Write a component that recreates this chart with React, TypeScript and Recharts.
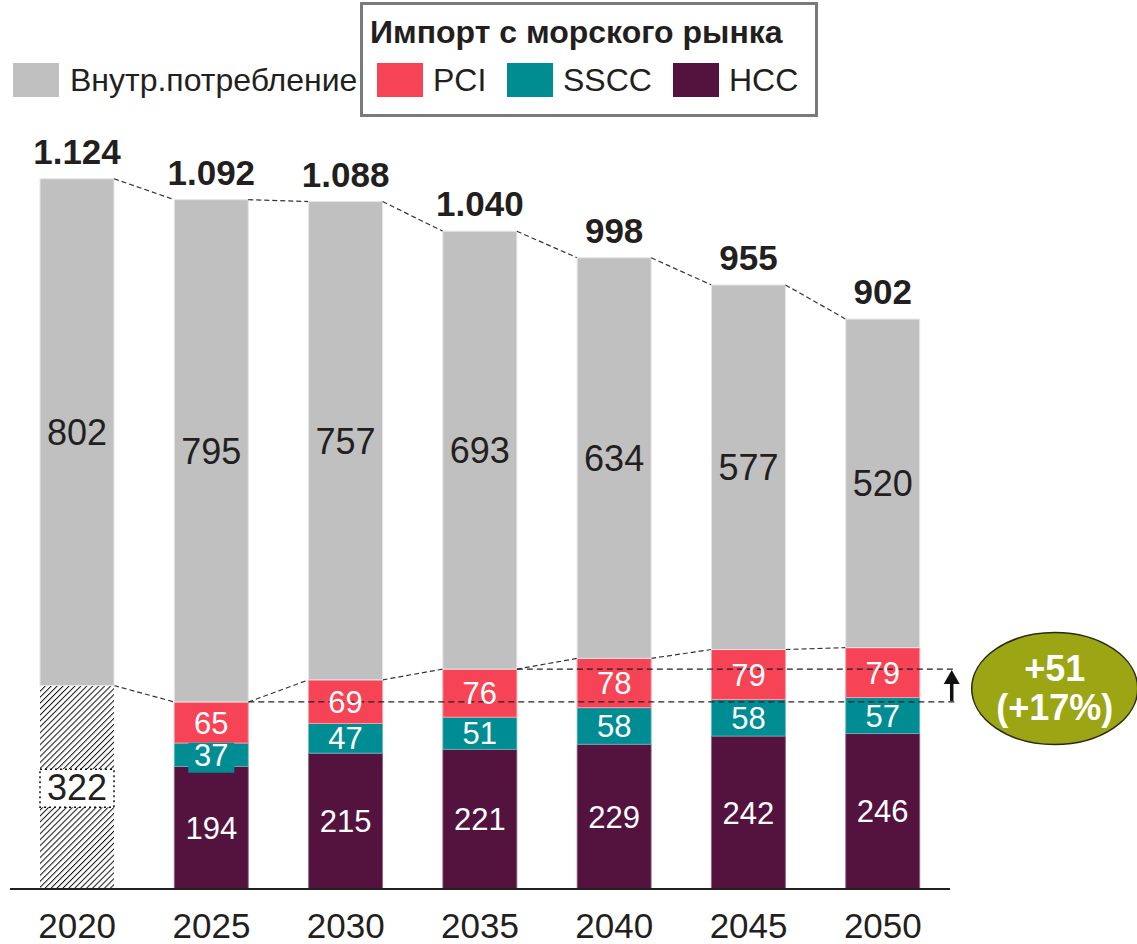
import { BarChart, Bar, XAxis, YAxis, LabelList } from 'recharts';

const years = ['2020', '2025', '2030', '2035', '2040', '2045', '2050'];
const domestic = [802, 795, 757, 693, 634, 577, 520];
const legacyImport = [322, null, null, null, null, null, null];
const hcc = [null, 194, 215, 221, 229, 242, 246];
const sscc = [null, 37, 47, 51, 58, 58, 57];
const pci = [null, 65, 69, 76, 78, 79, 79];
const totalLabels = ['1.124', '1.092', '1.088', '1.040', '998', '955', '902'];
const growthLabel = ['+51', '(+17%)'];

const GREY = '#c0c0c0';
const PCI_C = '#f74356';
const SSCC_C = '#008c93';
const HCC_C = '#54133f';
const OLIVE = '#9ca514';
const INK = '#231f20';
const FONT = '"Liberation Sans", Arial, sans-serif';

const W = 1137;
const H = 944;
const M = { top: 60, right: 187, left: 10, bottom: 0 };
const STEP = (W - M.left - M.right) / years.length;

const imports = years.map((_, i) => (legacyImport[i] ?? 0) + (hcc[i] ?? 0) + (sscc[i] ?? 0) + (pci[i] ?? 0));
const stackTotals = years.map((_, i) => imports[i] + domestic[i]);

const data = years.map((year, i) => ({
  year,
  legacy: legacyImport[i],
  hcc: hcc[i],
  sscc: sscc[i],
  pci: pci[i],
  domestic: domestic[i],
}));

function DomesticShape(props: any) {
  const { x, y, width, height, index } = props;
  const k = height / domestic[index];
  const base = y + stackTotals[index] * k;
  const next = index + 1 < years.length ? base - stackTotals[index + 1] * k : null;
  const gap = STEP - width;
  let extra = null;
  if (index === years.length - 1) {
    // import level lines for 2025 / 2035, arrow and growth bubble
    const yLow = base - imports[1] * k;
    const yHigh = base - imports[3] * k;
    const xEnd = x + width + 35;
    const ax = x + width + 32;
    const cx = x + width + 135;
    const cy = (yLow + yHigh) / 2 + 3;
    extra = (
      <g>
        <line x1={x - 5 * STEP + width} y1={yLow} x2={xEnd} y2={yLow} stroke="#222" strokeWidth={1.3} strokeDasharray="6 4" />
        <line x1={x - 3 * STEP + width} y1={yHigh} x2={xEnd} y2={yHigh} stroke="#222" strokeWidth={1.3} strokeDasharray="6 4" />
        <line x1={ax} y1={yLow - 1} x2={ax} y2={yHigh + 12} stroke="#111" strokeWidth={3.5} />
        <polygon points={`${ax - 8},${yHigh + 15} ${ax + 8},${yHigh + 15} ${ax},${yHigh + 1}`} fill="#111" />
        <ellipse cx={cx} cy={cy} rx={83} ry={56} fill={OLIVE} stroke="#2a2a10" strokeWidth={1.5} />
        <text x={cx} y={cy - 8} textAnchor="middle" fill="#fff" fontSize={36} fontWeight="bold" fontFamily={FONT}>
          {growthLabel[0]}
        </text>
        <text x={cx} y={cy + 31} textAnchor="middle" fill="#fff" fontSize={36} fontWeight="bold" fontFamily={FONT}>
          {growthLabel[1]}
        </text>
      </g>
    );
  }
  return (
    <g>
      <rect x={x} y={y} width={width} height={height} fill={GREY} stroke="#e6e6e6" strokeWidth={1} />
      {next !== null && (
        <line x1={x + width} y1={y} x2={x + width + gap} y2={next} stroke="#333" strokeWidth={1.2} strokeDasharray="5 3" />
      )}
      {extra}
    </g>
  );
}

function PciShape(props: any) {
  const { x, y, width, height, index } = props;
  if (index < 1 || pci[index] == null || !height) return null;
  const k = height / (pci[index] as number);
  const base = y + imports[index] * k;
  const prevY = base - imports[index - 1] * k;
  const gap = STEP - width;
  return (
    <g>
      <rect x={x} y={y} width={width} height={height} fill={PCI_C} stroke="#f3a0a8" strokeWidth={1} />
      <line x1={x - gap} y1={prevY} x2={x} y2={y} stroke="#333" strokeWidth={1.2} strokeDasharray="5 3" />
    </g>
  );
}

function renderInside(color: string, size: number, boxFill?: string, dotted?: boolean) {
  return (props: any) => {
    const { x, y, width, height, value } = props;
    if (value == null || value === 0) return null;
    const cx = x + width / 2;
    const cy = y + height / 2;
    return (
      <g>
        {dotted && (
          <rect x={x} y={cy - 18} width={width} height={38} fill="#fff" stroke="#111" strokeWidth={1.5} strokeDasharray="2 3" />
        )}
        {boxFill && height < 26 && <rect x={cx - 23} y={cy - 12} width={46} height={30} fill={boxFill} />}
        <text x={cx} y={cy + size * 0.36} textAnchor="middle" fill={color} fontSize={size} fontFamily={FONT}>
          {value}
        </text>
      </g>
    );
  };
}

function renderTotal(props: any) {
  const { x, y, width, index } = props;
  return (
    <text x={x + width / 2} y={y - 15} textAnchor="middle" fill={INK} fontSize={35} fontWeight="bold" fontFamily={FONT}>
      {totalLabels[index]}
    </text>
  );
}

const swatch = (left: number, color: string) => (
  <div style={{ position: 'absolute', left, top: 63, width: 46, height: 34, background: color }} />
);
const legendText = (left: number, text: string) => (
  <div style={{ position: 'absolute', left, top: 61, fontSize: 32, lineHeight: '38px', color: INK, whiteSpace: 'nowrap' }}>{text}</div>
);

export default function App() {
  return (
    <div style={{ position: 'relative', width: W, height: H, fontFamily: FONT, background: '#fff', overflow: 'hidden' }}>
      <style>{'body{margin:0}'}</style>
      <BarChart width={W} height={H} data={data} margin={M} barSize={74}>
        <defs>
          <pattern id="hatch" patternUnits="userSpaceOnUse" width={4.2} height={4.2} patternTransform="rotate(45)">
            <rect width={4.2} height={4.2} fill="#fff" />
            <line x1={0} y1={0} x2={0} y2={4.2} stroke="#111" strokeWidth={2} />
          </pattern>
        </defs>
        <XAxis
          dataKey="year"
          height={55}
          interval={0}
          tickLine={false}
          tickMargin={18}
          axisLine={{ stroke: INK, strokeWidth: 2 }}
          tick={{ fontSize: 35, fill: INK, fontFamily: FONT }}
        />
        <YAxis hide domain={[0, 1312]} />
        <Bar dataKey="legacy" stackId="a" fill="url(#hatch)" isAnimationActive={false}>
          <LabelList dataKey="legacy" content={renderInside(INK, 36, undefined, true)} />
        </Bar>
        <Bar dataKey="hcc" stackId="a" fill={HCC_C} stroke="#8a6a80" strokeWidth={0.8} isAnimationActive={false}>
          <LabelList dataKey="hcc" content={renderInside('#fff', 31)} />
        </Bar>
        <Bar dataKey="sscc" stackId="a" fill={SSCC_C} stroke="#6bb8bc" strokeWidth={0.8} isAnimationActive={false}>
          <LabelList dataKey="sscc" content={renderInside('#fff', 31, SSCC_C)} />
        </Bar>
        <Bar dataKey="pci" stackId="a" shape={PciShape} isAnimationActive={false}>
          <LabelList dataKey="pci" content={renderInside('#fff', 31)} />
        </Bar>
        <Bar dataKey="domestic" stackId="a" shape={DomesticShape} isAnimationActive={false}>
          <LabelList dataKey="domestic" content={renderInside(INK, 36)} />
          <LabelList dataKey="domestic" content={renderTotal} />
        </Bar>
      </BarChart>

      {swatch(13, GREY)}
      {legendText(70, 'Внутр.потребление')}
      <div style={{ position: 'absolute', left: 360, top: 2, width: 452, height: 109, border: '3px solid #7a7a7a' }} />
      <div style={{ position: 'absolute', left: 370, top: 13, fontSize: 32, lineHeight: '38px', fontWeight: 'bold', color: INK, whiteSpace: 'nowrap' }}>
        Импорт с морского рынка
      </div>
      {swatch(377, PCI_C)}
      {legendText(433, 'PCI')}
      {swatch(507, SSCC_C)}
      {legendText(563, 'SSCC')}
      {swatch(673, HCC_C)}
      {legendText(729, 'HCC')}
    </div>
  );
}
